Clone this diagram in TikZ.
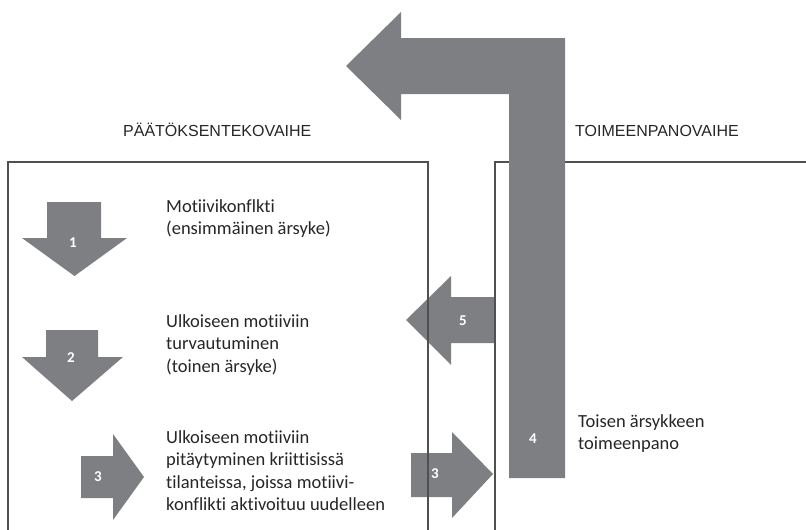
\documentclass[tikz,border=0pt]{standalone}
\usepackage{fontspec}
\setmainfont[Ligatures={NoCommon}]{Carlito}
\newfontfamily\titlefont{Liberation Sans}
\definecolor{arrowgray}{RGB}{126,127,131}
\definecolor{linegray}{RGB}{80,80,80}
\begin{document}
\begin{tikzpicture}[x=1pt,y=-1pt,
  box/.style={draw=linegray, line width=1.1pt},
  garrow/.style={fill=arrowgray},
  num/.style={text=white, font=\fontsize{15}{15}\selectfont\bfseries, inner sep=0},
  body/.style={font=\fontsize{18.5}{22.5}\selectfont, align=left, anchor=base west, inner sep=0, text=black!85},
  ttl/.style={font=\titlefont\fontsize{16}{16}\selectfont, anchor=base west, inner sep=0, text=black!85}]
\useasboundingbox (0,0) rectangle (806,530);

% titles
\node[ttl] (tA) at (123,136) {PÄÄTÖKSENTEKOVAIHE};
\node[ttl] (tB) at (575,136) {TOIMEENPANOVAIHE};

% small arrows (under the box lines)
\fill[garrow] (47,202) -- (101,202) -- (101,238) -- (127,238) -- (74.5,276) -- (22,238) -- (47,238) -- cycle;
\node[num] (n1) at (73,243) {1};
\fill[garrow] (46,330) -- (98,330) -- (98,357) -- (123,357) -- (72,401) -- (22,357) -- (46,357) -- cycle;
\node[num] (n2) at (71,358) {2};
\fill[garrow] (81,456) -- (113,456) -- (113,434) -- (144,477) -- (113,520) -- (113,498) -- (81,498) -- cycle;
\node[num] (n3a) at (98,477) {3};
\fill[garrow] (411,453) -- (452,453) -- (452,432) -- (493,474) -- (452,518) -- (452,497) -- (411,497) -- cycle;
\node[num] (n3b) at (435,474) {3};
\fill[garrow] (495,297) -- (451,297) -- (451,276) -- (406,320) -- (451,365) -- (451,343) -- (495,343) -- cycle;
\node[num] (n5) at (463,321) {5};

% boxes
\draw[box] (8,530) -- (8,162) -- (428,162) -- (428,530);
\draw[box] (495,530) -- (495,162) -- (806,162);

% big arrow
\fill[garrow] (565,478) -- (565,38) -- (401,38) -- (401,12) -- (346,66) -- (401,120) -- (401,94) -- (509,94) -- (509,478) -- cycle;
\node[num] (n4) at (533,439) {4};

% texts (base anchor = baseline of the last line)
\node[body] (x1) at (166,234.5) {Motiivikonflkti\\(ensimmäinen ärsyke)};
\node[body] (x2) at (166,372) {Ulkoiseen motiiviin\\turvautuminen\\(toinen ärsyke)};
\node[body] (x3) at (166,510.5) {Ulkoiseen motiiviin\\pitäytyminen kriittisissä\\tilanteissa, joissa motiivi-\\konflikti aktivoituu uudelleen};
\node[body] (x4) at (578,449.5) {Toisen ärsykkeen\\toimeenpano};
\end{tikzpicture}
\end{document}
